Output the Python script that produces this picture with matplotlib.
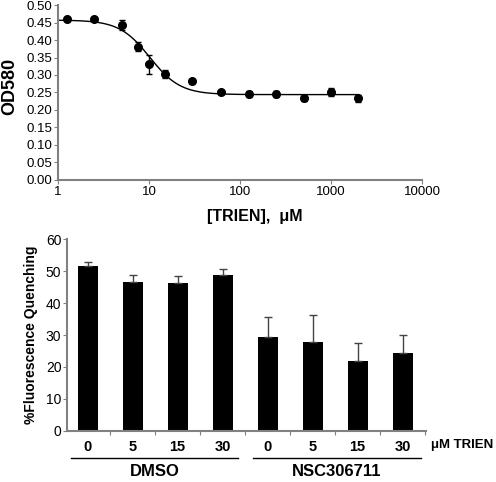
import numpy as np
import matplotlib.pyplot as plt

plt.rcParams['font.family'] = ['Liberation Sans', 'DejaVu Sans']

# Top panel: OD580 vs TRIEN concentration
trien_conc = [1.25, 2.5, 5, 7.5, 10, 15, 30, 62.5, 125, 250, 500, 1000, 2000]
od580 = [0.460, 0.460, 0.443, 0.381, 0.331, 0.302, 0.283, 0.251, 0.245, 0.245, 0.233, 0.251, 0.233]
od580_err = [0.005, 0.007, 0.013, 0.012, 0.027, 0.011, 0.006, 0.004, 0.008, 0.009, 0.007, 0.012, 0.009]

# sigmoid fit parameters (top, bottom, EC50, hill slope)
fit_top, fit_bottom, fit_ec50, fit_hill = 0.457, 0.244, 10.2, 2.6

# Bottom panel: fluorescence quenching
bar_labels = ["0", "5", "15", "30", "0", "5", "15", "30"]
quenching = [51.7, 46.6, 46.4, 48.7, 29.3, 27.8, 21.7, 24.5]
quenching_err = [1.1, 2.1, 2.0, 1.9, 6.5, 8.5, 5.9, 5.4]
groups = ["DMSO", "NSC306711"]

fig = plt.figure(figsize=(4.96, 4.82), dpi=100)

# ---- top plot ----
ax1 = fig.add_axes([0.117, 0.6266, 0.734, 0.363])
xs = np.logspace(0, np.log10(2000), 200)
fit = fit_bottom + (fit_top - fit_bottom) / (1 + (xs / fit_ec50) ** fit_hill)
ax1.plot(xs, fit, color='black', lw=1)
ax1.errorbar(trien_conc, od580, yerr=od580_err, fmt='o', color='black',
             ms=5.5, elinewidth=1, capsize=2.5, capthick=1)
ax1.set_xscale('log')
ax1.set_xlim(1, 10000)
ax1.set_ylim(0, 0.5)
ax1.set_yticks(np.arange(0, 0.51, 0.05))
ax1.set_yticklabels([f"{v:.2f}" for v in np.arange(0, 0.51, 0.05)])
ax1.set_xticks([1, 10, 100, 1000, 10000])
ax1.set_xticklabels(["1", "10", "100", "1000", "10000"])
ax1.minorticks_off()
ax1.set_ylabel("OD580", fontsize=13, fontweight='bold')
ax1.yaxis.set_label_coords(-0.108, 0.537)
ax1.set_xlabel("[TRIEN],  \u03bcM", fontsize=11.5, fontweight='bold')
ax1.xaxis.set_label_coords(0.54, -0.165)
for s in ['top', 'right']:
    ax1.spines[s].set_visible(False)
for s in ['left', 'bottom']:
    ax1.spines[s].set_color('#808080')
    ax1.spines[s].set_linewidth(1.5)
ax1.tick_params(labelsize=9.5, length=3, color='#808080', pad=1)

# ---- bottom plot ----
ax2 = fig.add_axes([0.135, 0.1064, 0.723, 0.3971])
pos = np.arange(len(quenching))
ax2.bar(pos, quenching, width=0.44, color='black')
ax2.errorbar(pos, quenching, yerr=[np.zeros(len(quenching)), quenching_err],
             fmt='none', ecolor='#444444', elinewidth=1, capsize=3, capthick=1)
ax2.set_xlim(-0.46, 7.51)
ax2.set_ylim(0, 60)
ax2.set_yticks(range(0, 61, 10))
ax2.set_xticks(pos + 0.5)
ax2.set_xticklabels([])
ax2.set_xticks(pos, minor=True)
ax2.set_xticklabels(bar_labels, minor=True, fontsize=10.5, fontweight='bold')
ax2.tick_params(axis='x', which='minor', length=0, pad=7)
ax2.tick_params(axis='x', which='major', length=3, color='#808080')
ax2.tick_params(axis='y', labelsize=10, length=3, color='#808080', pad=1)
for s in ['top', 'right']:
    ax2.spines[s].set_visible(False)
for s in ['left', 'bottom']:
    ax2.spines[s].set_color('#808080')
    ax2.spines[s].set_linewidth(1.5)
ax2.set_ylabel("%Fluorescence Quenching", fontsize=10, fontweight='bold')
ax2.yaxis.set_label_coords(-0.08, 0.5)

trans = ax2.get_xaxis_transform()
ax2.text(7.62, -0.075, "\u03bcM TRIEN", transform=trans, fontsize=9.5,
         fontweight='bold', ha='left', va='center')
for g, (x0, x1) in zip(groups, [(-0.36, 3.35), (3.68, 7.4)]):
    ax2.plot([x0, x1], [-0.144, -0.144], color='black', lw=1,
             transform=trans, clip_on=False)
    ax2.text((x0 + x1) / 2, -0.215, g, transform=trans, fontsize=12,
             fontweight='bold', ha='center', va='center')

fig.savefig("out.png", dpi=100)
